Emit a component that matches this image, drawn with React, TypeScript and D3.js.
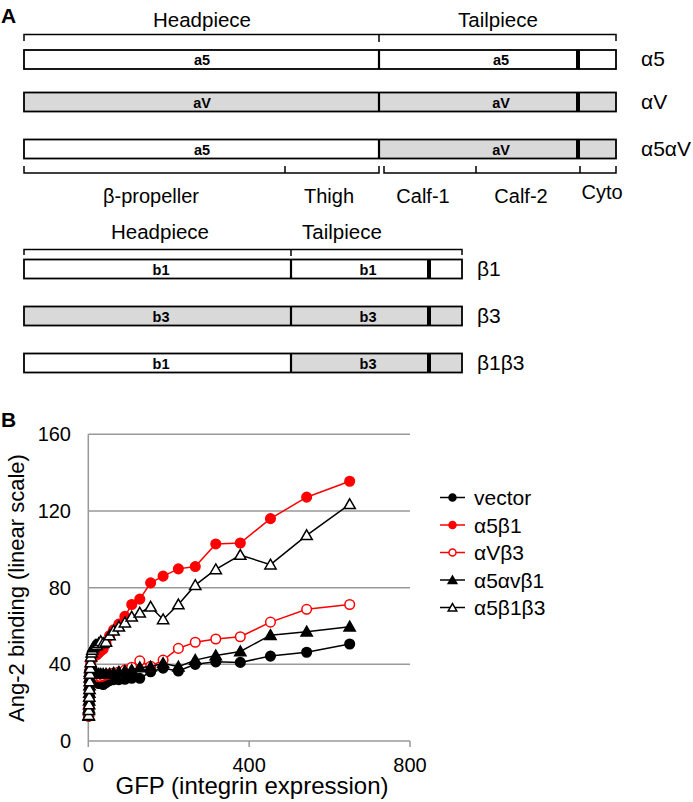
import React from "react";
import * as d3 from "d3";

// ---------- Panel B data ----------
const gfp = [1, 1.5, 2, 2.5, 3, 3.5, 4, 5, 6, 7, 8.5, 10, 12, 15, 18, 21, 26, 31, 37, 44, 53, 63, 76, 91, 108, 128, 155, 186, 224, 266, 317, 378, 453, 543, 650];
const vector = [13, 16, 19, 23, 27, 31, 34, 36, 37, 37, 36, 35, 34, 33, 32, 31, 30, 30, 29.5, 30.5, 31.5, 32, 32, 32.2, 32.7, 32.7, 36.1, 38, 36.5, 40, 41.3, 41, 44.3, 46.3, 50.6];
const a5b1 = [13, 17, 21, 26, 30, 34, 37, 39, 41, 42, 43, 44, 44, 44.5, 45, 45, 46, 47, 48, 51, 55, 58, 61, 65, 71.2, 74, 82.5, 86, 89.8, 91, 102.8, 103.3, 116, 127.2, 135.5];
const aVb3 = [13, 17, 21, 25, 29, 32, 35, 37, 38, 38, 37, 36, 35, 34.5, 34, 33.5, 33.5, 33.5, 34, 34.5, 35, 35.5, 36, 37, 38.5, 41.8, 39, 42.2, 48.3, 51.5, 53.2, 54.4, 62, 68.7, 71.2];
const a5avb1 = [13, 17, 21, 25, 29, 33, 36, 38, 39, 39.5, 39, 38, 37, 36, 35.5, 35, 35, 35, 35, 35, 35, 35.5, 36, 36.5, 37, 38.4, 38.7, 40.5, 38.7, 42.2, 44.6, 46.7, 55.2, 57, 59.6];
const a5b1b3 = [13.5, 16, 19, 23, 27, 31, 35, 38, 41, 44, 46, 47.5, 48.8, 49.5, 50, 50, 51, 52, 51, 51.7, 55, 57.5, 59.6, 61.7, 64.8, 66.9, 70, 63.4, 71.2, 81.3, 89.5, 97, 92, 107.3, 123.5];

const seriesNames = ["vector", "α5β1", "αVβ3", "α5αvβ1", "α5β1β3"];
const seriesValues = [vector, a5b1, aVb3, a5avb1, a5b1b3];
const seriesColors = ["#000000", "#ff0000", "#ff0000", "#000000", "#000000"];
const seriesShapes = ["circle", "circle", "circle", "triangle", "triangle"];
const seriesFilled = [true, true, false, true, false];

const yTicks = [0, 40, 80, 120, 160];
const xTicks = [0, 400, 800];

// ---------- Panel A diagram content ----------
const alphaRows = ["α5", "αV", "α5αV"];
const alphaHeadLabels = ["a5", "aV", "a5"];
const alphaTailLabels = ["a5", "aV", "aV"];
const alphaHeadGray = [false, true, false];
const alphaTailGray = [false, true, true];
const alphaDomains = ["β-propeller", "Thigh", "Calf-1", "Calf-2", "Cyto"];

const betaRows = ["β1", "β3", "β1β3"];
const betaHeadLabels = ["b1", "b3", "b1"];
const betaTailLabels = ["b1", "b3", "b3"];
const betaHeadGray = [false, true, false];
const betaTailGray = [false, true, true];

const FONT = "'Liberation Sans', Arial, Helvetica, sans-serif";
const GRAY = "#d9d9d9";

function tri(size: number) {
  return d3.symbol().type(d3.symbolTriangle).size(size)() as string;
}

function Marker({ shape, filled, color, cx, cy, r, triSize }: any) {
  const fill = filled ? color : "#ffffff";
  if (shape === "circle") {
    return <circle cx={cx} cy={cy} r={r} fill={fill} stroke={color} strokeWidth={1.5} />;
  }
  return <path d={tri(triSize)} transform={`translate(${cx},${cy + 1})`} fill={fill} stroke={color} strokeWidth={1.5} />;
}

export default function App() {
  // ----- Panel A layout -----
  const aL = 24, aDiv = 379, aTM = 576, aR = 616;
  const aRowY = [50, 92.5, 139.5];
  const barH = 19;
  const bL = 24, bDiv = 291, bTM = 427, bR = 462;
  const bRowY = [259.5, 306.5, 353.5];

  // ----- Panel B scales -----
  const x = d3.scaleLinear().domain([0, 800]).range([88.3, 410]);
  const y = d3.scaleLinear().domain([0, 160]).range([741, 434.3]);
  const line = d3
    .line<number>()
    .x((_, i) => x(gfp[i]))
    .y((v) => y(v));

  const domainLabelX = [151, 329, 423, 521, 602];
  const domainLabelY = [203, 203, 203, 203, 199];

  return (
    <svg width={693} height={802} style={{ position: "absolute", left: 0, top: 0 }} fontFamily={FONT}>
      <rect width={693} height={802} fill="#ffffff" />
      {/* Panel labels */}
      <text x={1} y={22.5} fontSize={21} fontWeight="bold">A</text>
      <text x={1} y={427} fontSize={21} fontWeight="bold">B</text>

      {/* Alpha top bracket */}
      <text x={202} y={26.5} fontSize={20.5} textAnchor="middle">Headpiece</text>
      <text x={498} y={26.5} fontSize={20.5} textAnchor="middle">Tailpiece</text>
      <path d={`M${aL},41V34.5H${aR}V41M${aDiv},34.5V42`} fill="none" stroke="#000" strokeWidth={1.5} />

      {alphaRows.map((name, i) => {
        const top = aRowY[i];
        return (
          <g key={name}>
            <rect x={aL} y={top} width={aDiv - aL} height={barH} fill={alphaHeadGray[i] ? GRAY : "#fff"} />
            <rect x={aDiv} y={top} width={aR - aDiv} height={barH} fill={alphaTailGray[i] ? GRAY : "#fff"} />
            <rect x={aL} y={top} width={aR - aL} height={barH} fill="none" stroke="#000" strokeWidth={1.8} />
            <line x1={aDiv} x2={aDiv} y1={top} y2={top + barH} stroke="#000" strokeWidth={2.2} />
            <rect x={aTM} y={top} width={4} height={barH} fill="#000" />
            <text x={202} y={top + 15} fontSize={14.5} fontWeight="bold" textAnchor="middle">{alphaHeadLabels[i]}</text>
            <text x={501} y={top + 15} fontSize={14.5} fontWeight="bold" textAnchor="middle">{alphaTailLabels[i]}</text>
            <text x={641} y={top + 16} fontSize={21}>{name}</text>
          </g>
        );
      })}

      {/* Alpha domain brackets */}
      <path
        d={`M${aL},166V173H${aDiv}V166M285,173V166M384,166V173H${aR}V166M476,173V166M580,173V166`}
        fill="none"
        stroke="#000"
        strokeWidth={1.5}
      />
      {alphaDomains.map((d, i) => (
        <text key={d} x={domainLabelX[i]} y={domainLabelY[i]} fontSize={20} textAnchor="middle">{d}</text>
      ))}

      {/* Beta top bracket */}
      <text x={160} y={239} fontSize={20.5} textAnchor="middle">Headpiece</text>
      <text x={342} y={239} fontSize={20.5} textAnchor="middle">Tailpiece</text>
      <path d={`M${bL},255V249.5H${bR}V255M${bDiv},249.5V256`} fill="none" stroke="#000" strokeWidth={1.5} />

      {betaRows.map((name, i) => {
        const top = bRowY[i];
        return (
          <g key={name}>
            <rect x={bL} y={top} width={bDiv - bL} height={barH} fill={betaHeadGray[i] ? GRAY : "#fff"} />
            <rect x={bDiv} y={top} width={bR - bDiv} height={barH} fill={betaTailGray[i] ? GRAY : "#fff"} />
            <rect x={bL} y={top} width={bR - bL} height={barH} fill="none" stroke="#000" strokeWidth={1.8} />
            <line x1={bDiv} x2={bDiv} y1={top} y2={top + barH} stroke="#000" strokeWidth={2.2} />
            <rect x={bTM} y={top} width={4} height={barH} fill="#000" />
            <text x={161} y={top + 15} fontSize={14.5} fontWeight="bold" textAnchor="middle">{betaHeadLabels[i]}</text>
            <text x={368} y={top + 15} fontSize={14.5} fontWeight="bold" textAnchor="middle">{betaTailLabels[i]}</text>
            <text x={477} y={top + 16} fontSize={21}>{name}</text>
          </g>
        );
      })}

      {/* Panel B grid and axes */}
      {yTicks.filter((t) => t > 0).map((t) => (
        <line key={t} x1={x(0)} x2={x(800)} y1={y(t)} y2={y(t)} stroke="#999" strokeWidth={1.5} />
      ))}
      <line x1={x(0)} x2={x(0)} y1={y(160)} y2={y(0)} stroke="#999" strokeWidth={1.5} />
      <line x1={x(0)} x2={x(800)} y1={y(0)} y2={y(0)} stroke="#999" strokeWidth={1.5} />
      {xTicks.map((t) => (
        <g key={t}>
          <line x1={x(t)} x2={x(t)} y1={y(0)} y2={y(0) + 6} stroke="#999" strokeWidth={1.5} />
          <text x={x(t)} y={772} fontSize={20} textAnchor="middle">{t}</text>
        </g>
      ))}
      {yTicks.map((t) => (
        <text key={t} x={71} y={y(t) + 7} fontSize={20} textAnchor="end">{t}</text>
      ))}
      <text x={252} y={794} fontSize={24} textAnchor="middle">GFP (integrin expression)</text>
      <text transform="translate(24,588) rotate(-90)" fontSize={22} textAnchor="middle">Ang-2 binding (linear scale)</text>

      {/* Series */}
      {seriesValues.map((vals, s) => (
        <g key={seriesNames[s]}>
          <path d={line(vals) as string} fill="none" stroke={seriesColors[s]} strokeWidth={1.5} />
          {vals.map((v, i) => (
            <Marker
              key={i}
              shape={seriesShapes[s]}
              filled={seriesFilled[s]}
              color={seriesColors[s]}
              cx={x(gfp[i])}
              cy={y(v)}
              r={4.8}
              triSize={55}
            />
          ))}
        </g>
      ))}

      {/* Legend */}
      {seriesNames.map((n, s) => {
        const ly = 497.5 + s * 27.5;
        return (
          <g key={n}>
            <line x1={440} x2={465} y1={ly} y2={ly} stroke={seriesColors[s]} strokeWidth={1.5} />
            <Marker
              shape={seriesShapes[s]}
              filled={seriesFilled[s]}
              color={seriesColors[s]}
              cx={452.5}
              cy={ly}
              r={3.5}
              triSize={32}
            />
            <text x={474} y={ly + 7.5} fontSize={21}>{n}</text>
          </g>
        );
      })}
    </svg>
  );
}
